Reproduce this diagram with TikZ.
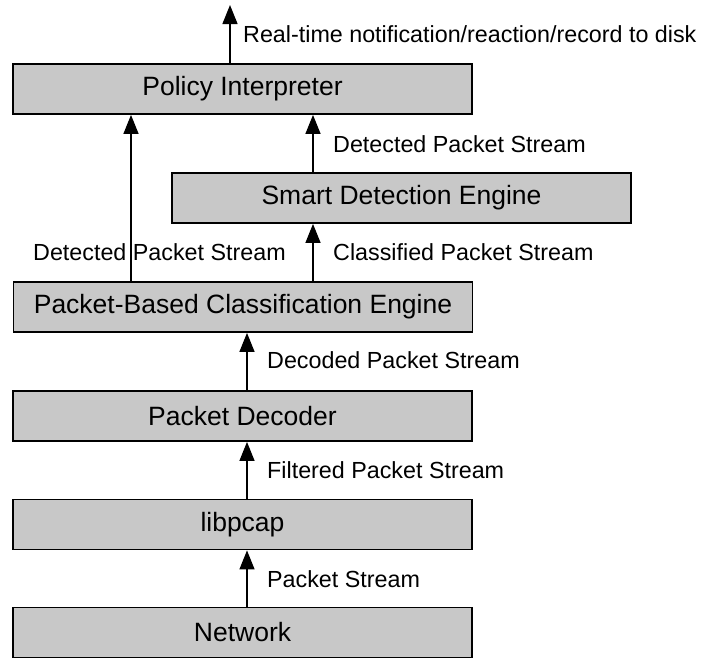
\documentclass[tikz,border=0pt]{standalone}
\usepackage{fontspec}
\setmainfont{Liberation Sans}
\usetikzlibrary{arrows.meta}
\definecolor{boxgray}{RGB}{200,200,200}
\tikzset{
  layer/.style={draw=black, line width=1.8pt, fill=boxgray, minimum width=459pt,
    minimum height=50pt, inner sep=0pt, font=\fontsize{26.5pt}{29pt}\selectfont},
  flow/.style={draw=black, line width=1.3pt, -{Triangle[width=15pt,length=19pt]}},
  flowlabel/.style={anchor=base west, inner sep=0pt, font=\fontsize{23.3pt}{27pt}\selectfont}
}
\begin{document}
\begin{tikzpicture}[x=1pt,y=-1pt]
\useasboundingbox (0,0) rectangle (701,659);

% processing layers
\node[layer] (pi)   at (242.5,89)  {Policy Interpreter};
\node[layer] (sde)  at (401.5,198) {Smart Detection Engine};
\node[layer] (pbce) at (243,307)   {Packet-Based Classification Engine};
\node[layer] (pd)   at (242.5,416) {Packet Decoder};
\node[layer] (lib)  at (242.5,524.5) {libpcap};
\node[layer] (net)  at (242.5,632.5) {Network};

% output of the interpreter
\coordinate (out) at (230,5);
\draw[flow] (pi.north -| out) -- (out);

% data flow between layers
\draw[flow] (pbce.north -| 131,0) -- (pi.south -| 131,0);
\draw[flow] (sde.north -| 313,0) -- (pi.south -| 313,0);
\draw[flow] (pbce.north -| 313,0) -- (sde.south -| 313,0);
\draw[flow] (pd.north -| 247,0) -- (pbce.south -| 247,0);
\draw[flow] (lib.north -| 247,0) -- (pd.south -| 247,0);
\draw[flow] (net.north -| 247,0) -- (lib.south -| 247,0);

% stream labels
\node[flowlabel] (lout) at (243,42)  {Real-time notification/reaction/record to disk};
\node[flowlabel] (ldet1) at (333,152) {Detected Packet Stream};
\node[flowlabel] (ldet2) at (33,260)  {Detected Packet Stream};
\node[flowlabel] (lcls) at (333,260) {Classified Packet Stream};
\node[flowlabel] (ldec) at (267,368) {Decoded Packet Stream};
\node[flowlabel] (lfil) at (267,478) {Filtered Packet Stream};
\node[flowlabel] (lpkt) at (267,587) {Packet Stream};
\end{tikzpicture}
\end{document}
